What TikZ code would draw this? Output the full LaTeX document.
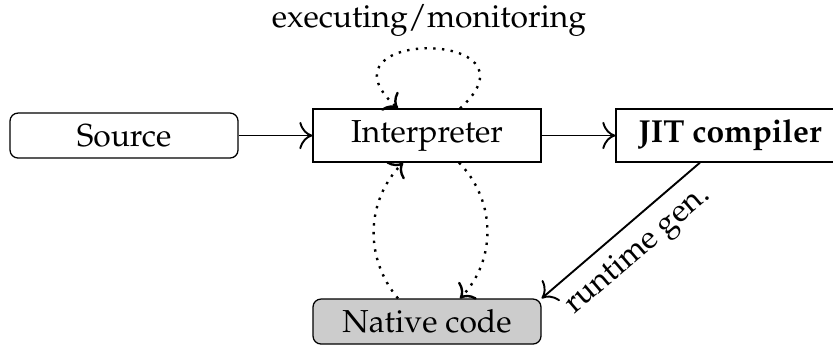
\documentclass[tikz,border=0pt]{standalone}
\usepackage[T1]{fontenc}
\usepackage{mathpazo}
\usepackage{xcolor}
\usepackage{tikz}
\usetikzlibrary{calc,arrows.meta}
\definecolor{nativebg}{HTML}{CCCCCC}
\definecolor{edge}{HTML}{000000}
\tikzset{
  box/.style={draw=edge, line width=0.4pt, minimum width=2.52cm, minimum height=0.586cm, inner sep=2pt},
  rbox/.style={box, rounded corners=2.5pt, minimum height=0.497cm},
  flow/.style={draw=edge, line width=0.6pt, -{To[scale=1.4]}},
  cyc/.style={draw=edge, line width=0.75pt, dotted, -{To[scale=1.15]}},
  lab/.style={text=edge, font=\normalsize},
}
\begin{document}
\begin{tikzpicture}
  \useasboundingbox (0,0) rectangle (9.208,-3.825);

  % main row
  \node[rbox] (src) at (1.371,-1.498) {Source};
  \node[box] (interp) at (4.720,-1.498) {Interpreter};
  \node[box] (jit) at (8.069,-1.498) {\textbf{JIT compiler}};
  \node[rbox, fill=nativebg] (native) at (4.720,-3.554) {Native code};

  \draw[flow] (src) -- (interp);
  \draw[flow] (interp) -- (jit);

  % self loop on top of the interpreter
  \draw[cyc] ([xshift=0.365cm]interp.north) .. controls +(42:1.32cm) and +(138:1.32cm) ..
    node[lab, above] {executing/monitoring} ([xshift=-0.321cm]interp.north);

  % back and forth with native code
  \draw[cyc] ([xshift=-0.321cm]native.north) to[bend left=42] ([xshift=-0.265cm]interp.south);
  \draw[cyc] ([xshift=0.354cm]interp.south) to[bend left=44] ([xshift=0.365cm]native.north);

  \draw[flow] ([xshift=-0.332cm]jit.south) -- node[lab, midway, sloped, below] {runtime gen.} (native.north east);
\end{tikzpicture}
\end{document}
